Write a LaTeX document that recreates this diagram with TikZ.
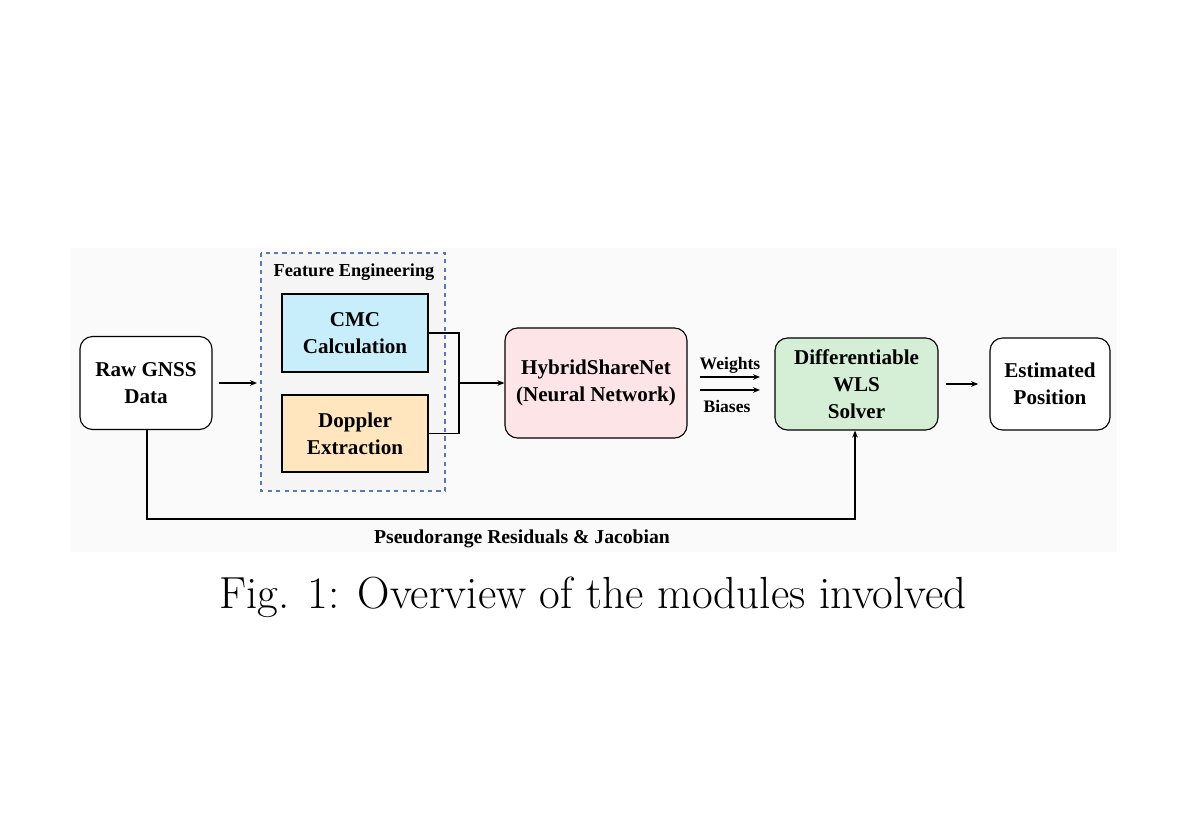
\documentclass[tikz,border=0pt]{standalone}
\usepackage{fontspec}
\setmainfont{Liberation Serif}
\newfontfamily\lmfont{Latin Modern Roman}
\usetikzlibrary{arrows.meta}
\definecolor{cmcc}{HTML}{C8EEFC}
\definecolor{dopc}{HTML}{FFE6BE}
\definecolor{hybc}{HTML}{FDE4E6}
\definecolor{wlsc}{HTML}{D5EFD6}
\definecolor{dashc}{HTML}{5A78B4}
\begin{document}
\begin{tikzpicture}[x=0.025cm,y=-0.025cm,
  blk/.style={draw=black,line width=0.8pt,align=center,font=\bfseries\fontsize{15}{19}\selectfont,inner sep=0pt},
  rnd/.style={blk,rounded corners=9pt,fill=white},
  arr/.style={-{Stealth[length=5pt,width=4pt]},line width=0.8pt},
  ln/.style={line width=0.8pt},
  lab/.style={font=\bfseries\fontsize{12.5}{14}\selectfont,inner sep=1pt}]
\useasboundingbox (0,0) rectangle (1200,827);
\fill[white] (0,0) rectangle (1200,827);
\fill[black!2] (70,248) rectangle (1117,552);
\draw[dashed,draw=dashc,fill=black!4,line width=0.8pt] (261,253) rectangle (445,491);
\node[font=\bfseries\fontsize{13}{15}\selectfont] (fe) at (354,272) {Feature Engineering};
\node[rnd,minimum width=3.3cm,minimum height=2.325cm] (raw) at (146,383) {Raw GNSS\\Data};
\node[blk,fill=cmcc,minimum width=3.65cm,minimum height=1.95cm] (cmc) at (355,333) {CMC\\Calculation};
\node[blk,fill=dopc,minimum width=3.65cm,minimum height=1.925cm] (dop) at (355,433.5) {Doppler\\Extraction};
\node[rnd,fill=hybc,minimum width=4.55cm,minimum height=2.75cm] (hyb) at (596,383) {HybridShareNet\\(Neural Network)};
\node[rnd,fill=wlsc,minimum width=4.075cm,minimum height=2.3cm] (wls) at (856.5,384) {Differentiable\\WLS\\Solver};
\node[rnd,minimum width=3cm,minimum height=2.3cm] (est) at (1050,384) {Estimated\\Position};
\coordinate (fin) at (257,383);
\draw[arr] (raw.east)+(6,0) -- (fin);
\coordinate (j) at (459,383);
\draw[ln] (cmc.east) -| (j);
\draw[ln] (dop.east) -| (j);
\draw[arr] (j) -- (hyb.west);
\coordinate (w1) at (700,377); \coordinate (w2) at (760,377);
\coordinate (b1) at (700,390); \coordinate (b2) at (760,390);
\draw[arr] (w1) -- (w2);
\draw[arr] (b1) -- (b2);
\node[lab] (wl) at (730,365) {Weights};
\node[lab] (bl) at (727,406) {Biases};
\draw[arr] (wls.east)+(7,0) -- ([xshift=-8pt]est.west);
\coordinate (c1) at (147,519); \coordinate (c2) at (855,519);
\draw[arr] (raw.south -| c1) -- (c1) -- (c2) -- (wls.south -| c2);
\node[font=\bfseries\fontsize{14}{16}\selectfont] (pl) at (522,539) {Pseudorange Residuals \& Jacobian};
\node[font=\lmfont\fontsize{32}{36}\selectfont] (cap) at (593,597) {Fig. 1: Overview of the modules involved};
\end{tikzpicture}
\end{document}
